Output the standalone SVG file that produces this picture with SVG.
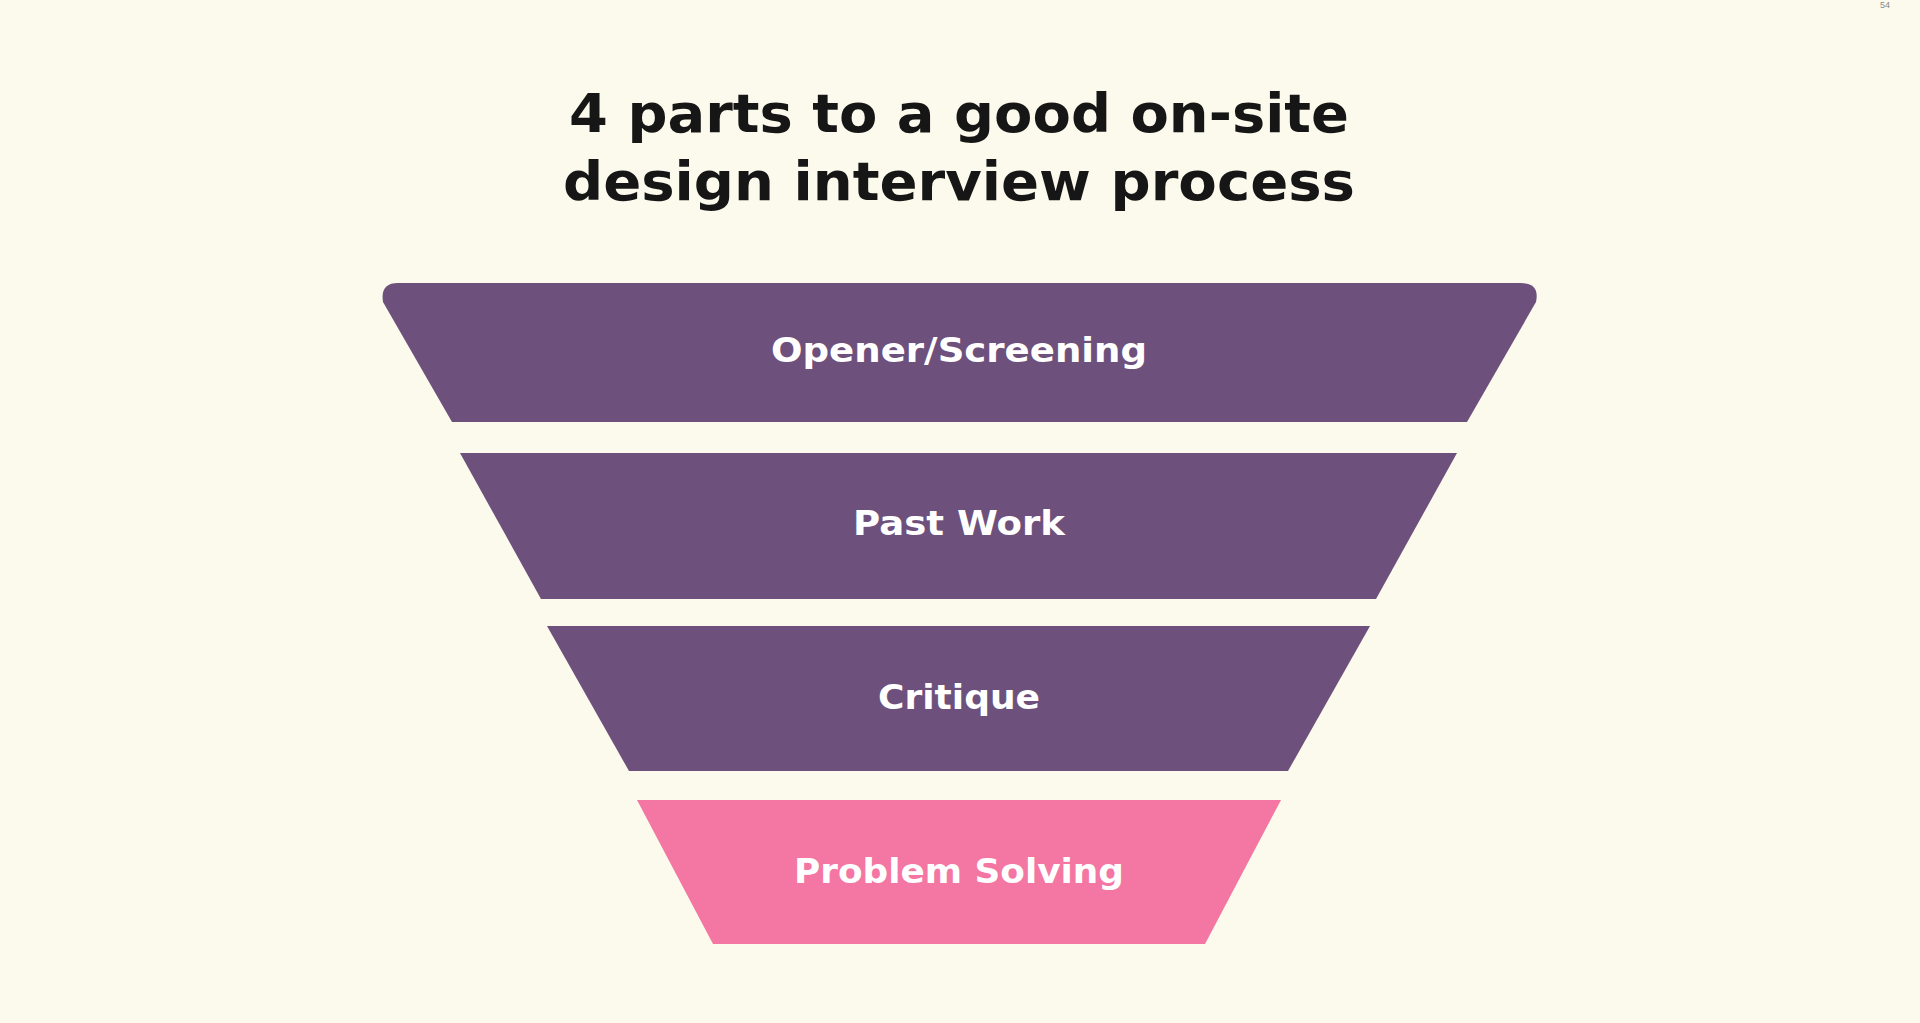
<svg xmlns="http://www.w3.org/2000/svg" width="1920" height="1023" viewBox="0 0 1920 1023">
<style>
.t{font-family:"DejaVu Sans","Liberation Sans",sans-serif;font-weight:bold;fill:#161616;font-size:54px;text-anchor:middle}
.l{font-family:"DejaVu Sans","Liberation Sans",sans-serif;font-weight:bold;fill:#ffffff;font-size:33px;text-anchor:middle}
.p{fill:#6d507c}
</style>
<rect width="1920" height="1023" fill="#fcfaec"/>
<text x="1880" y="8" font-family="Liberation Sans, sans-serif" font-size="9" fill="#888">54</text>
<text class="t" x="959" y="132" textLength="780" lengthAdjust="spacingAndGlyphs">4 parts to a good on-site</text>
<text class="t" x="959" y="200" textLength="792" lengthAdjust="spacingAndGlyphs">design interview process</text>
<g id="opener"><path class="p" d="M398 283 H1521 Q1540 283 1536 302 L1467 422 H452 L383 302 Q380 283 398 283 Z"/><text class="l" x="959" y="362" textLength="376" lengthAdjust="spacingAndGlyphs">Opener/Screening</text></g>
<g id="pastwork"><path class="p" d="M460 453 H1457 L1376 599 H541 Z"/><text class="l" x="959" y="535" textLength="212" lengthAdjust="spacingAndGlyphs">Past Work</text></g>
<g id="critique"><path class="p" d="M547 626 H1370 L1288 771 H629 Z"/><text class="l" x="959" y="709" textLength="162" lengthAdjust="spacingAndGlyphs">Critique</text></g>
<g id="problem"><path fill="#f476a3" d="M637 800 H1281 L1205 944 H713 Z"/><text class="l" x="959" y="883" textLength="330" lengthAdjust="spacingAndGlyphs">Problem Solving</text></g>
<g id="connectors"/>
</svg>
